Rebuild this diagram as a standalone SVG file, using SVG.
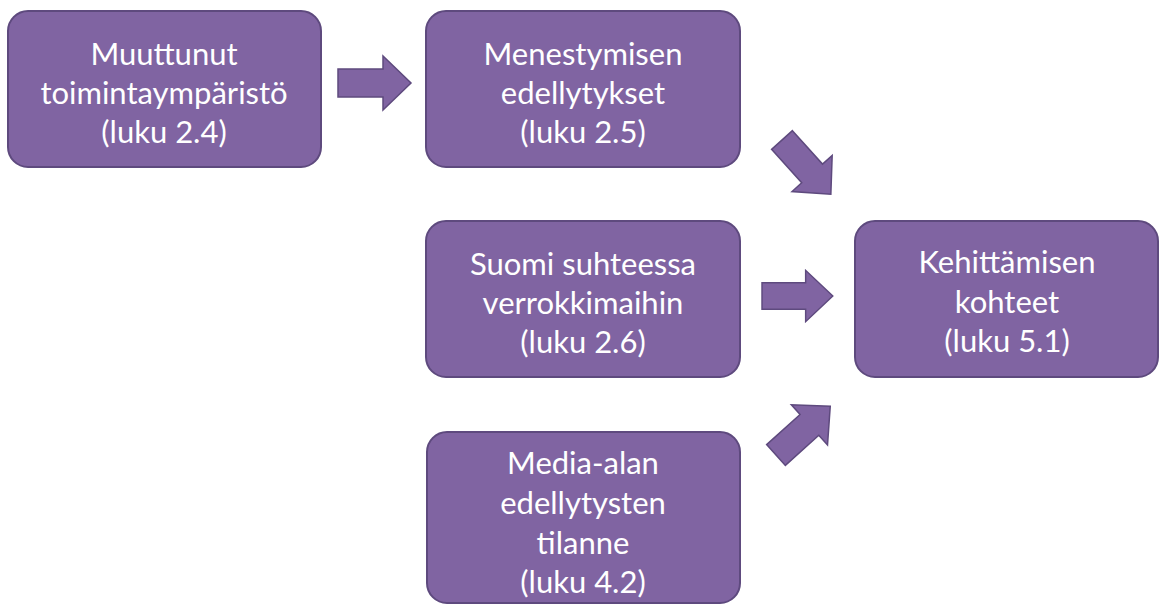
<svg xmlns="http://www.w3.org/2000/svg" width="1160" height="606" viewBox="0 0 1160 606">
<style>
.box{fill:#8064A2;stroke:#5E4A7E;stroke-width:2}
.arr{fill:#8064A2;stroke:#5E4A7E;stroke-width:1.5;stroke-linejoin:miter}
text{font-family:Lato,"Open Sans",sans-serif;font-size:31px;fill:#FFFFFF;text-anchor:middle}
</style>
<defs>
<path id="arrow" d="M0,-14 H45 V-27 L73,0 L45,27 V14 H0 Z"/>
</defs>
<rect width="1160" height="606" fill="#FFFFFF"/>
<g id="connectors">
<use href="#arrow" class="arr" transform="translate(338,83)"/>
<use href="#arrow" class="arr" transform="translate(782,140) rotate(48)"/>
<use href="#arrow" class="arr" transform="translate(762,296) scale(0.97,0.95)"/>
<use href="#arrow" class="arr" transform="translate(776,455) rotate(-42)"/>
</g>
<g id="node1">
<rect class="box" x="8" y="11" width="313" height="156" rx="20"/>
<text x="164" y="65">Muuttunut</text>
<text x="164" y="104">toimintaympäristö</text>
<text x="164" y="143">(luku 2.4)</text>
</g>
<g id="node2">
<rect class="box" x="426" y="11" width="314" height="156" rx="20"/>
<text x="583" y="65">Menestymisen</text>
<text x="583" y="104">edellytykset</text>
<text x="583" y="143">(luku 2.5)</text>
</g>
<g id="node3">
<rect class="box" x="426" y="221" width="314" height="156" rx="20"/>
<text x="583" y="275">Suomi suhteessa</text>
<text x="583" y="314">verrokkimaihin</text>
<text x="583" y="353">(luku 2.6)</text>
</g>
<g id="node4">
<rect class="box" x="427" y="432" width="313" height="171" rx="20"/>
<text x="583" y="474">Media-alan</text>
<text x="583" y="514">edellytysten</text>
<text x="583" y="554">tilanne</text>
<text x="583" y="593">(luku 4.2)</text>
</g>
<g id="node5">
<rect class="box" x="855" y="221" width="303" height="156" rx="20"/>
<text x="1007" y="273">Kehittämisen</text>
<text x="1007" y="313">kohteet</text>
<text x="1007" y="352">(luku 5.1)</text>
</g>
</svg>
